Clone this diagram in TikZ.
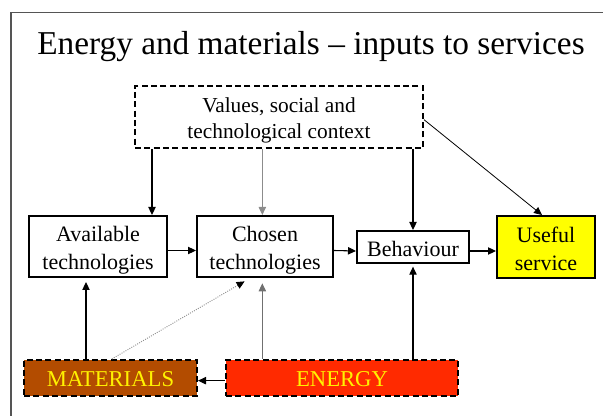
\documentclass[tikz,border=0pt]{standalone}
\usepackage{fontspec}
\setmainfont{Liberation Serif}
\usetikzlibrary{arrows.meta,calc,positioning}
\definecolor{Frame}{HTML}{555555}
\definecolor{Rust}{HTML}{B34C00}
\definecolor{Flame}{HTML}{FF2A00}
\definecolor{Lemon}{HTML}{FFFF00}
\definecolor{Straw}{HTML}{FFF200}
\definecolor{Ash}{HTML}{8C8C8C}

\begin{document}
\begin{tikzpicture}[x=0.75pt, y=-0.75pt, >={Triangle[length=6pt,width=5.5pt]},
    box/.style={draw, line width=1.5pt, align=center, inner sep=0pt, font=\fontsize{16.5}{21}\selectfont},
    twoline/.style={text height=35pt, text depth=0pt},
    oneline/.style={text height=15pt, text depth=0pt},
    dbox/.style={box, dash pattern=on 4.5pt off 2.5pt},
    input/.style={dbox, text=Straw, text height=13pt, text depth=0pt, font=\fontsize{17}{21}\selectfont},
    arr/.style={->, line width=0.8pt},
    garr/.style={arr, draw=Ash}]
    \useasboundingbox (0,0) rectangle (603,416);
    \draw[Frame, line width=0.8pt] (11,416) -- (11,12.5) -- (603,12.5);
    \node[anchor=base, font=\fontsize{25}{30}\selectfont] (title) at (311,55) {Energy and materials -- inputs to services};

    % top context box
    \node[dbox, font=\fontsize{16}{19.5}\selectfont, text height=33pt, text depth=0pt, minimum width=288*0.75pt, minimum height=62*0.75pt] (vals) at (279,117) {Values, social and\\technological context};

    % middle row
    \node[box, twoline, minimum width=138*0.75pt, minimum height=61*0.75pt] (avail) at (98,246.5) {Available\\technologies};
    \node[box, twoline, minimum width=136*0.75pt, minimum height=61*0.75pt] (chosen) at (265,246.5) {Chosen\\technologies};
    \node[box, oneline, minimum width=112*0.75pt, minimum height=32*0.75pt] (beh) at (413,247) {Behaviour};
    \node[box, twoline, fill=Lemon, minimum width=98*0.75pt, minimum height=62*0.75pt] (useful) at (546,247) {Useful\\service};

    % inputs
    \node[input, fill=Rust, minimum width=173*0.75pt, minimum height=36*0.75pt] (mat) at (110.5,378) {MATERIALS};
    \node[input, fill=Flame, minimum width=232*0.75pt, minimum height=36*0.75pt] (energy) at (342,378) {ENERGY};

    \coordinate (va) at ([xshift=40.5pt]avail.north);
    \coordinate (ma) at ([xshift=-9pt]avail.south);
    \coordinate (vc) at ([xshift=-2pt]chosen.north);
    \coordinate (ec) at ([xshift=-2pt]chosen.south);
    \draw[arr] (vals.south -| va) -- (va);
    \draw[garr] (vals.south -| vc) -- (vc);
    \draw[arr] (vals.south -| beh.north) -- (beh.north);
    \draw[arr, line width=0.6pt] ([yshift=-2pt]vals.east) -- ([xshift=-3pt]useful.north);

    \draw[arr] ([yshift=-3pt]avail.east) -- ([yshift=-3pt]chosen.west);
    \draw[arr] ([yshift=-3pt]chosen.east) -- ([yshift=-3pt]beh.west);
    \draw[arr] ([yshift=-3pt]beh.east) -- ([yshift=-3pt]useful.west);

    \draw[arr, shorten >=3pt] (mat.north -| ma) -- (ma);
    \draw[-{Triangle[length=6pt,width=5.5pt,black]}, Ash, densely dotted, line width=0.7pt, shorten >=5pt] ([xshift=1pt]mat.north) -- ([xshift=-11pt]chosen.south);
    \draw[garr, draw=Ash!80!black, shorten >=4pt] (energy.north -| ec) -- (ec);
    \draw[arr, shorten >=2pt] (energy.north -| beh.south) -- (beh.south);
    \draw[arr] ([yshift=-2pt]energy.west) -- ([yshift=-2pt]mat.east);
\end{tikzpicture}
\end{document}
